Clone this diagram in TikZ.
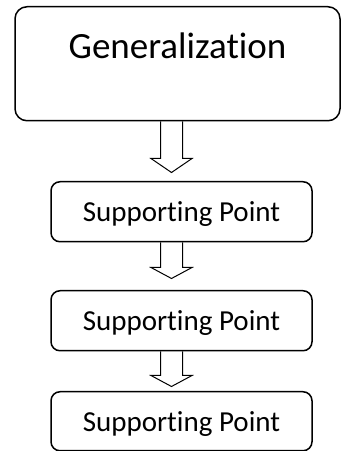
\documentclass[tikz,border=0pt]{standalone}
\usepackage{fontspec}
\setmainfont{Carlito}[Ligatures=NoCommon]
\usetikzlibrary{shapes}

\tikzset{
  genbox/.style={draw=black, line width=1.5pt, rounded corners=12pt, inner sep=0pt,
    minimum width=325pt, text height=52pt, text depth=62pt, anchor=north,
    font=\fontsize{37}{44}\selectfont},
  pointbox/.style={draw=black, line width=1.5pt, rounded corners=9pt, inner sep=0pt,
    minimum width=261pt, text height=40pt, text depth=20pt, anchor=north,
    font=\fontsize{29}{35}\selectfont},
  arrowline/.style={draw=black, line width=1pt, line join=miter}
}
% hollow down arrow: start point, shaft length, head length
\newcommand{\blockarrow}[3]{%
  \draw[arrowline] #1 ++(-11,0) -- ++(0,-#2) -- ++(-9.5,0) -- ++(20.5,-#3)
    -- ++(20.5,#3) -- ++(-9.5,0) -- ++(0,#2);
}

\begin{document}
\begin{tikzpicture}[x=1pt, y=1pt]
\useasboundingbox (0,0) rectangle (341,451);
\node[genbox] (gen) at (177.5,445) {Generalization};
\node[pointbox] (sp1) at (181.5,270) {Supporting Point};
\node[pointbox] (sp2) at (181.5,161) {Supporting Point};
\node[pointbox, text depth=19pt] (sp3) at (181.5,60) {Supporting Point};
\blockarrow{(gen.south) ++(-6,0)}{37}{14}
\blockarrow{(sp1.south) ++(-10,0)}{25}{11}
\blockarrow{(sp2.south) ++(-10,0)}{24}{11}
\end{tikzpicture}
\end{document}
